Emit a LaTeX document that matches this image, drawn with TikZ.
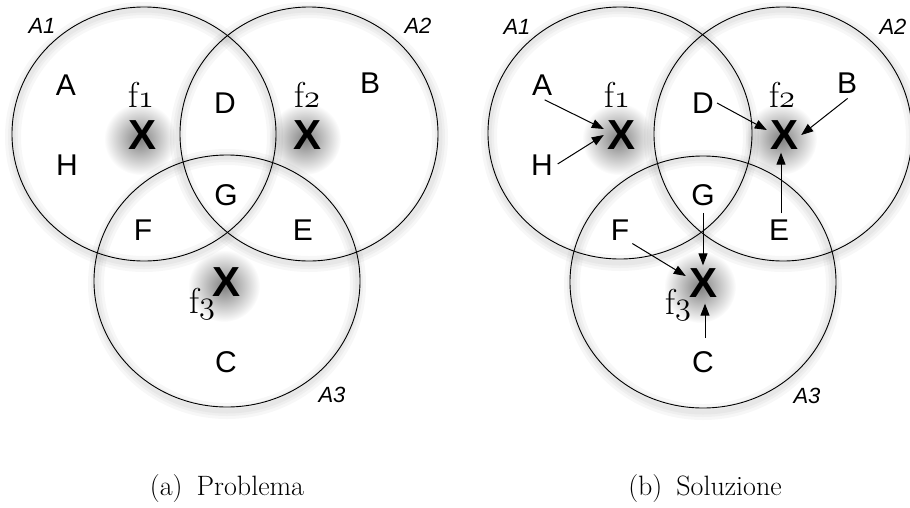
\documentclass[tikz,border=0pt]{standalone}
\usepackage{fontspec}
\usetikzlibrary{arrows.meta,fadings}
\newfontfamily\helv{Liberation Sans}
\newcommand\oldnum[1]{\scalebox{1.3}{\fontsize{24.88}{26}\usefont{OML}{cmm}{m}{it}#1}}
\tikzfading[name=softshadow, inner color=transparent!50, outer color=transparent!100]
\tikzset{
  lbl/.style={font=\helv\fontsize{30}{32}\selectfont, inner sep=3pt},
  xmark/.style={font=\helv\bfseries\fontsize{42}{44}\selectfont, inner sep=3pt},
  alab/.style={font=\helv\itshape\fontsize{22}{24}\selectfont, inner sep=0pt},
  flab/.style={font=\fontsize{36}{38}\selectfont, anchor=base, inner sep=0pt},
  capt/.style={font=\fontsize{28}{30}\selectfont, anchor=base, inner sep=0pt},
  venn/.style={draw=black, line width=0.9pt},
  halo/.style={draw=black, opacity=0.03},
  arr/.style={-{Triangle[length=12pt,width=9pt]}, line width=1pt},
  xshadow/.style={fill=black, path fading=softshadow},
}
\begin{document}
\begin{tikzpicture}[x=1pt,y=-1pt]
\useasboundingbox (0,0) rectangle (910,507);
\fill[white] (0,0) rectangle (910,507);
% soft X shadows
\foreach \p in {(140,139),(305,139),(224,286),(618,139),(781,139),(700,287)}
  \path[xshadow] \p circle (36pt);
% circle halos
\foreach \c in {(144,137),(309,137),(227,284),(620,136),(783,137),(703,285)}
  \foreach \w in {16,10,5}
    \draw[halo, line width=\w pt] \c ellipse [x radius=131pt, y radius=127pt];
% circles, left
\draw[venn] (144,134) ellipse [x radius=132pt, y radius=127pt];
\draw[venn] (309,134) ellipse [x radius=129pt, y radius=127pt];
\draw[venn] (227,281) ellipse [x radius=133pt, y radius=126pt];
% circles, right
\draw[venn] (620,133) ellipse [x radius=132pt, y radius=126pt];
\draw[venn] (783,134) ellipse [x radius=129pt, y radius=127pt];
\draw[venn] (703,282) ellipse [x radius=133pt, y radius=126pt];

% ---- left panel labels
\node[alab] (lA1) at (42,26) {A1};
\node[alab] (lA2) at (418,26) {A2};
\node[alab] (lA3) at (332,395) {A3};
\node[lbl] (lA) at (66,85) {A};
\node[lbl] (lH) at (67,165) {H};
\node[lbl] (lD) at (225,103) {D};
\node[lbl] (lB) at (370,83) {B};
\node[lbl] (lG) at (226,195) {G};
\node[lbl] (lF) at (143,230) {F};
\node[lbl] (lE) at (303,230) {E};
\node[lbl] (lC) at (226,362) {C};
\node[xmark] (lX1) at (143,135) {X};
\node[xmark] (lX2) at (308,135) {X};
\node[xmark] (lX3) at (227,282) {X};
\node[flab] (lf1) at (141,107) {f\oldnum{1}};
\node[flab] (lf2) at (307,107) {f\oldnum{2}};
\node[flab] (lf3) at (202,313) {f\oldnum{3}};

% ---- right panel labels
\node[alab] (rA1) at (517,27) {A1};
\node[alab] (rA2) at (893,27) {A2};
\node[alab] (rA3) at (807,396) {A3};
\node[lbl] (rA) at (542,85) {A};
\node[lbl] (rH) at (542,165) {H};
\node[lbl] (rD) at (703,103) {D};
\node[lbl] (rB) at (847,83) {B};
\node[lbl] (rG) at (703,195) {G};
\node[lbl] (rF) at (620,230) {F};
\node[lbl] (rE) at (779,230) {E};
\node[lbl] (rC) at (703,362) {C};
\node[xmark] (rX1) at (621,135) {X};
\node[xmark] (rX2) at (784,135) {X};
\node[xmark] (rX3) at (703,283) {X};
\node[flab] (rf1) at (617,107) {f\oldnum{1}};
\node[flab] (rf2) at (782,107) {f\oldnum{2}};
\node[flab] (rf3) at (678,314) {f\oldnum{3}};

% ---- arrows
\draw[arr, shorten <=3pt] (rA.south) -- ([yshift=6pt]rX1.west);
\draw[arr, shorten <=2pt] (rH.east) -- (rX1.west);
\draw[arr] (rD.east) -- ([yshift=5pt]rX2.west);
\draw[arr, shorten <=3pt] ([xshift=3pt]rB.south) -- (rX2.east);
\draw[arr, shorten <=3pt] ([xshift=2pt]rE.north) -- ([xshift=2pt]rE.north |- rX2.south);
\draw[arr, shorten <=4pt] (rG.south) -- (rX3.north);
\draw[arr] (rF.south east) -- ([yshift=7pt]rX3.west);
\draw[arr, shorten <=10pt, shorten >=3pt] ([xshift=2pt]rC.north) -- ([xshift=2pt]rX3.south);

% ---- captions
\node[capt] (capa) at (227,495) {(a)\enspace Problema};
\node[capt] (capb) at (705,495) {(b)\enspace Soluzione};
\end{tikzpicture}
\end{document}
